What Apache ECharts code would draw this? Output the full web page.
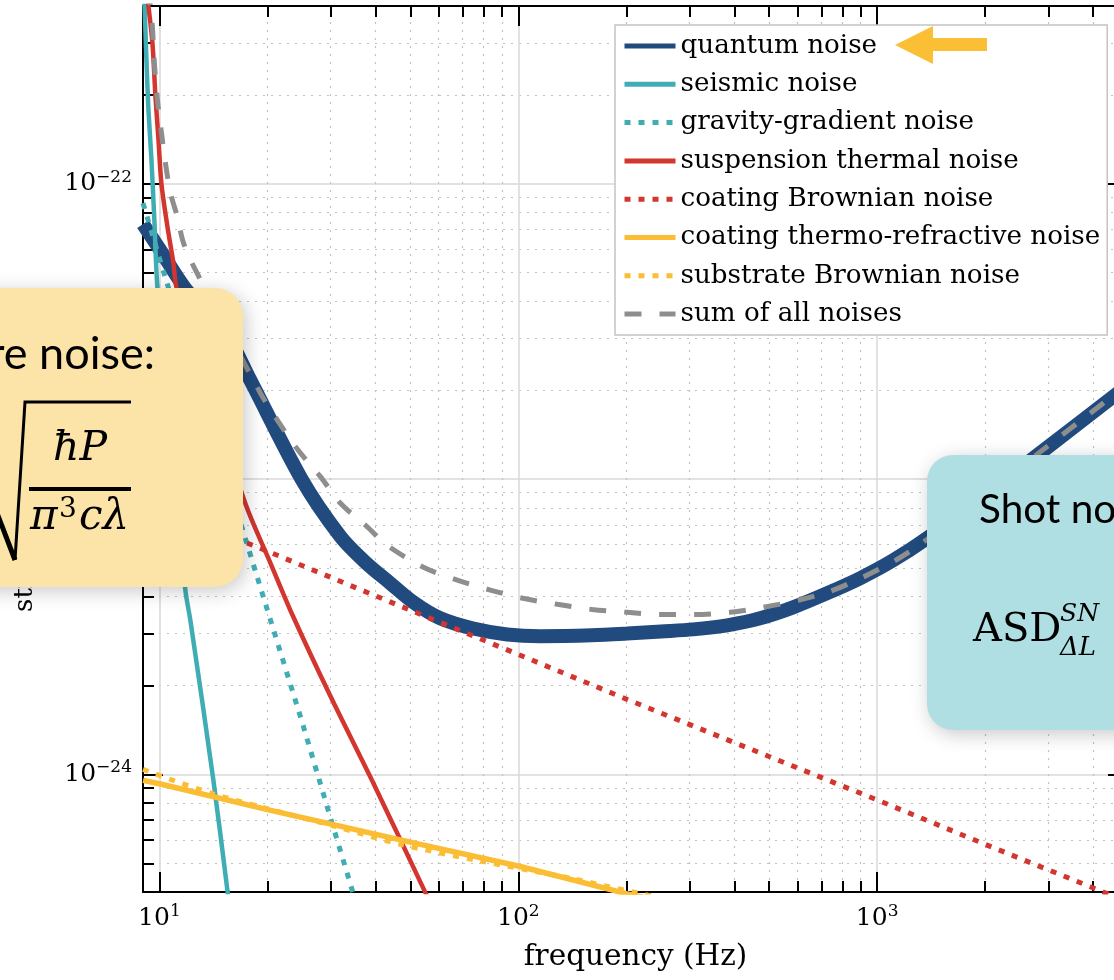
<!DOCTYPE html>
<html>
<head>
<meta charset="utf-8">
<title>noise budget</title>
<script src="https://cdn.jsdelivr.net/npm/echarts@6/dist/echarts.min.js"></script>
<style>
  html, body { margin: 0; padding: 0; background: #fff; }
  #chart { width: 1114px; height: 980px; }
</style>
</head>
<body>
<div id="chart"></div>
<script>
// strain values are tiny, ECharts rounds ticks to 10 decimals, so the y axis runs in units of 1e-24
const STRAIN_UNIT = 1e-24
const STRAIN_EXP = -24

// axis ranges and tick positions
const freqRange = [9, 5000]
const strainRange = [4e-25, 4e-22]
const freqMajorTicks = [10, 100, 1000]
const freqMinorTicks = [20, 30, 40, 50, 60, 70, 80, 90, 200, 300, 400, 500, 600, 700, 800, 900, 2000, 3000, 4000]
const strainMajorTicks = [1e-24, 1e-23, 1e-22]
const strainMinorTicks = [5e-25, 6e-25, 7e-25, 8e-25, 9e-25,
  2e-24, 3e-24, 4e-24, 5e-24, 6e-24, 7e-24, 8e-24, 9e-24,
  2e-23, 3e-23, 4e-23, 5e-23, 6e-23, 7e-23, 8e-23, 9e-23,
  2e-22, 3e-22]

const seriesNames = ['quantum noise', 'seismic noise', 'gravity-gradient noise', 'suspension thermal noise',
  'coating Brownian noise', 'coating thermo-refractive noise', 'substrate Brownian noise', 'sum of all noises']

// [frequency (Hz), strain ASD (1/sqrt(Hz))]
const quantumNoise = [[9, 7.3e-23], [10, 6.02e-23], [12, 4.31e-23], [15, 3.27e-23], [17.9, 2.17e-23], [24.9, 1.0e-23],
  [31.9, 6.41e-24], [37.5, 5.23e-24], [44, 4.44e-24], [51, 3.83e-24], [60.6, 3.38e-24], [74.9, 3.12e-24],
  [93.2, 2.98e-24], [115, 2.94e-24], [160, 2.96e-24], [201, 3.0e-24], [250, 3.05e-24], [307, 3.1e-24], [382, 3.2e-24],
  [472, 3.38e-24], [583, 3.68e-24], [726, 4.11e-24], [897, 4.62e-24], [1108, 5.31e-24], [1377, 6.31e-24], [2000, 8.8e-24],
  [2844, 1.225e-23], [5000, 2.08e-23]]
const seismicNoise = [[9, 5.5e-22], [9.08, 4.2e-22], [9.2, 2.63e-22], [9.32, 1.78e-22], [9.5, 1.21e-22], [9.68, 7.55e-23],
  [9.87, 4.48e-23], [10.73, 1.47e-23], [11.81, 4.21e-24], [12.2, 3.32e-24], [14.14, 9.55e-25], [15.47, 4.05e-25], [16, 2.96e-25]]
const gravityGradientNoise = [[9, 8.6e-23], [10, 5.6e-23], [13, 1.97e-23], [20, 3.6e-24], [25, 1.5e-24], [30, 7.1e-25], [36, 3.4e-25]]
const suspensionThermalNoise = [[9.1, 5.3e-22], [9.32, 4.0e-22], [9.56, 3.01e-22], [9.75, 1.97e-22], [9.94, 1.41e-22],
  [10.13, 1.0e-22], [10.53, 7.15e-23], [10.94, 5.39e-23], [11.15, 4.48e-23], [13.9, 1.93e-23], [17.4, 8.2e-24],
  [20.4, 5.19e-24], [23.5, 3.46e-24], [29.9, 1.85e-24], [39.5, 9.32e-25], [55.1, 3.98e-25], [60.6, 3.13e-25]]
const coatingBrownianNoise = [[9, 8.4e-24], [10, 8.0e-24], [20, 5.7e-24], [50, 3.6e-24], [100, 2.55e-24], [200, 1.8e-24],
  [500, 1.15e-24], [1000, 8.2e-25], [2000, 5.8e-25], [5000, 3.7e-25]]
const coatingThermoRefractiveNoise = [[9, 9.55e-25], [10, 9.3e-25], [20, 7.6e-25], [50, 5.9e-25], [100, 4.9e-25], [200, 3.95e-25], [300, 3.55e-25]]
const substrateBrownianNoise = [[9, 1.04e-24], [14.1, 8.6e-25], [30.5, 6.7e-25], [47, 5.8e-25], [78, 5.1e-25], [140, 4.45e-25], [230, 3.9e-25], [300, 3.7e-25]]
const sumOfAllNoises = [[9.3, 4.6e-22], [9.44, 3.98e-22], [9.56, 3.4e-22], [9.68, 2.57e-22], [9.87, 1.93e-22], [10.13, 1.49e-22],
  [10.39, 1.18e-22], [10.73, 9.32e-23], [11.22, 7.73e-23], [11.67, 6.31e-23], [12.6, 5.11e-23], [19.1, 1.96e-23],
  [21.5, 1.56e-23], [24.4, 1.25e-23], [28.1, 1.02e-23], [31.9, 8.3e-24], [38, 6.88e-24], [43.1, 5.97e-24], [54.4, 5.03e-24],
  [67.6, 4.55e-24], [83.6, 4.21e-24], [103, 3.95e-24], [128.4, 3.77e-24], [160.7, 3.62e-24], [201, 3.54e-24],
  [248.6, 3.48e-24], [311, 3.48e-24], [389, 3.54e-24], [481, 3.68e-24], [603, 3.89e-24], [740, 4.17e-24],
  [914, 4.66e-24], [1122, 5.3e-24], [1334, 6.08e-24], [2000, 8.85e-24], [2844, 1.235e-23], [5000, 2.1e-23]]

const SERIF = '"DejaVu Serif", serif'
const SANS = 'Lato, "Open Sans", sans-serif'
const BLUE = '#214b7e'
const TEAL = '#3fadb3'
const RED = '#d3352f'
const YELLOW = '#fbbd33'
const GREY = '#8e8e8e'
const DOT = [6, 8]

function toUnits(v) {
  return v / STRAIN_UNIT
}

function expLabel(e) {
  return '{b|10}{s|' + (e < 0 ? '\u2212' + (-e) : e) + '}'
}

function isPow10(v) {
  const e = Math.round(Math.log10(v))
  return Math.abs(v / Math.pow(10, e) - 1) < 1e-6 ? e : null
}

const labelRich = {
  b: { fontFamily: SERIF, fontSize: 25, lineHeight: 30, color: '#000' },
  s: { fontFamily: SERIF, fontSize: 17, lineHeight: 17, verticalAlign: 'top', color: '#000' }
}

function logAxis(position, range, ticks, major) {
  return {
    type: 'log',
    position: position,
    min: range[0],
    max: range[1],
    axisLine: { show: major, onZero: false, lineStyle: { color: '#000', width: 2 } },
    axisTick: { inside: true, length: major ? 20 : 11, customValues: ticks, lineStyle: { color: '#000', width: 2 } },
    axisLabel: { show: false },
    splitLine: { show: false }
  }
}

const yRange = strainRange.map(toUnits)
const yMajor = strainMajorTicks.map(toUnits)
const yMinor = strainMinorTicks.map(toUnits)

const xBottom = logAxis('bottom', freqRange, freqMajorTicks, true)
xBottom.name = 'frequency (Hz)'
xBottom.nameLocation = 'middle'
xBottom.nameGap = 50
xBottom.nameTextStyle = { fontFamily: SERIF, fontSize: 29.5, color: '#000' }
xBottom.axisLabel = {
  show: true, customValues: freqMajorTicks, margin: 11, rich: labelRich,
  formatter: function (v) { const e = isPow10(v); return e === null ? '' : expLabel(e) }
}
xBottom.splitLine = { show: true, lineStyle: { color: '#d8d8d8', width: 1.5 } }
const xBottomMinor = logAxis('bottom', freqRange, freqMinorTicks, false)
xBottomMinor.splitLine = { show: true, lineStyle: { color: '#c2c2c2', width: 1.2, type: [2, 6] } }

const yLeft = logAxis('left', yRange, yMajor, true)
yLeft.name = 'strain sensitivity (1/\u221aHz)'
yLeft.nameLocation = 'middle'
yLeft.nameGap = 105
yLeft.nameTextStyle = { fontFamily: SERIF, fontSize: 26, color: '#000' }
yLeft.axisLabel = {
  show: true, customValues: yMajor, margin: 11, rich: labelRich,
  formatter: function (v) { const e = isPow10(v); return e === null ? '' : expLabel(e + STRAIN_EXP) }
}
yLeft.splitLine = { show: true, lineStyle: { color: '#d8d8d8', width: 1.5 } }
const yLeftMinor = logAxis('left', yRange, yMinor, false)
yLeftMinor.splitLine = { show: true, lineStyle: { color: '#c2c2c2', width: 1.2, type: [2, 6] } }

function line(name, data, color, width, type, smooth) {
  return {
    name: name,
    type: 'line',
    data: data.map(function (p) { return [p[0], toUnits(p[1])] }),
    symbol: 'none',
    smooth: smooth ? 0.3 : false,
    clip: true,
    lineStyle: { color: color, width: width, type: type, cap: 'butt' },
    itemStyle: { color: color }
  }
}

const chart = echarts.init(document.getElementById('chart'))
chart.setOption({
  animation: false,
  backgroundColor: '#fff',
  grid: { left: 143, top: 6, width: 985, height: 886, containLabel: false, outerBoundsMode: 'none' },
  xAxis: [xBottom, xBottomMinor, logAxis('top', freqRange, freqMajorTicks, true), logAxis('top', freqRange, freqMinorTicks, false)],
  yAxis: [yLeft, yLeftMinor, logAxis('right', yRange, yMajor, true), logAxis('right', yRange, yMinor, false)],
  legend: {
    data: seriesNames,
    orient: 'vertical',
    left: 615,
    top: 25,
    padding: [6, 7, 6, 7],
    itemGap: 8.3,
    itemWidth: 51,
    itemHeight: 14,
    selectedMode: false,
    backgroundColor: '#fff',
    borderColor: '#c4c4c4',
    borderWidth: 1.5,
    borderRadius: 0,
    lineStyle: { width: 5 },
    itemStyle: { opacity: 0 },
    textStyle: { fontFamily: SERIF, fontSize: 26.2, lineHeight: 30, color: '#000' },
    z: 20
  },
  series: [
    line(seriesNames[0], quantumNoise, BLUE, 14, 'solid', true),
    line(seriesNames[1], seismicNoise, TEAL, 4.5, 'solid', true),
    line(seriesNames[2], gravityGradientNoise, TEAL, 5, DOT, false),
    line(seriesNames[3], suspensionThermalNoise, RED, 4.5, 'solid', true),
    line(seriesNames[4], coatingBrownianNoise, RED, 5, DOT, false),
    line(seriesNames[5], coatingThermoRefractiveNoise, YELLOW, 5.5, 'solid', false),
    line(seriesNames[6], substrateBrownianNoise, YELLOW, 5, DOT, true),
    line(seriesNames[7], sumOfAllNoises, GREY, 5, [17, 18], true)
  ],
  graphic: [
    // radiation pressure callout, cut by the left edge
    {
      type: 'rect', z: 100,
      shape: { x: -40, y: 288, width: 283, height: 299, r: 28 },
      style: { fill: '#fce4a9', shadowBlur: 20, shadowColor: 'rgba(0,0,0,0.22)', shadowOffsetX: 3, shadowOffsetY: 4 }
    },
    { type: 'text', z: 101, x: 155, y: 354, style: { text: 're noise:', font: '45px ' + SANS, fill: '#000', align: 'right', verticalAlign: 'middle' } },
    { type: 'polyline', z: 101, shape: { points: [[-8, 500], [15, 560]] }, style: { stroke: '#000', lineWidth: 5, fill: null } },
    { type: 'polyline', z: 101, shape: { points: [[15, 560], [25, 402], [131, 402]] }, style: { stroke: '#000', lineWidth: 3, fill: null, lineJoin: 'miter' } },
    { type: 'rect', z: 101, shape: { x: 29, y: 487, width: 102, height: 4 }, style: { fill: '#000' } },
    { type: 'text', z: 101, x: 80, y: 449, style: { text: '\u0127P', font: 'italic 41px ' + SERIF, fill: '#000', align: 'center', verticalAlign: 'middle' } },
    { type: 'text', z: 101, x: 30, y: 518, style: { text: '\u03c0', font: 'italic 42px ' + SERIF, fill: '#000', align: 'left', verticalAlign: 'middle' } },
    { type: 'text', z: 101, x: 59, y: 510, style: { text: '3', font: '28px ' + SERIF, fill: '#000', align: 'left', verticalAlign: 'middle' } },
    { type: 'text', z: 101, x: 79, y: 518, style: { text: 'c\u03bb', font: 'italic 42px ' + SERIF, fill: '#000', align: 'left', verticalAlign: 'middle' } },
    // shot noise callout, cut by the right edge
    {
      type: 'rect', z: 100,
      shape: { x: 927, y: 455, width: 300, height: 275, r: 26 },
      style: { fill: '#b0dfe3', shadowBlur: 20, shadowColor: 'rgba(0,0,0,0.22)', shadowOffsetX: 3, shadowOffsetY: 4 }
    },
    { type: 'text', z: 101, x: 979, y: 510, style: { text: 'Shot noise:', font: '40.5px ' + SANS, fill: '#000', align: 'left', verticalAlign: 'middle' } },
    { type: 'text', z: 101, x: 973, y: 631, style: { text: 'ASD', font: '40px ' + SERIF, fill: '#000', align: 'left', verticalAlign: 'middle' } },
    { type: 'text', z: 101, x: 1060, y: 614, style: { text: 'SN', font: 'italic 25px ' + SERIF, fill: '#000', align: 'left', verticalAlign: 'middle' } },
    { type: 'text', z: 101, x: 1060, y: 648, style: { text: '\u0394L', font: 'italic 26px ' + SERIF, fill: '#000', align: 'left', verticalAlign: 'middle' } },
    // arrow pointing at the quantum noise legend entry
    {
      type: 'polygon', z: 101,
      shape: { points: [[895, 45], [933, 26], [933, 38], [987, 38], [987, 51], [933, 51], [933, 64]] },
      style: { fill: '#fbbf35' }
    }
  ]
})
</script>
</body>
</html>
